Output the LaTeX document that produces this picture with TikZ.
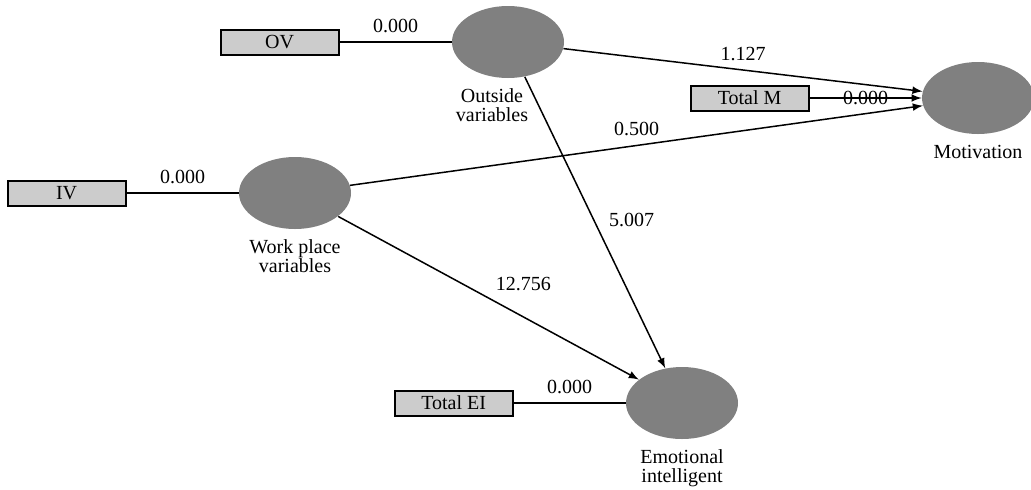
\documentclass[tikz,border=0pt]{standalone}
\usepackage{fontspec}
\setmainfont{Liberation Serif}
\usepackage{tikz}
\usetikzlibrary{arrows,positioning,shapes.geometric}

\begin{document}
\begin{tikzpicture}[x=0.5pt, y=-0.5pt, font=\fontsize{10}{9.3}\selectfont]
    \tikzstyle{latent} = [ellipse, fill=black!50, minimum width=56pt, minimum height=36pt, inner sep=0pt]
    \tikzstyle{indicator} = [rectangle, draw, line width=1pt, fill=black!20, minimum width=59pt, minimum height=12.5pt, inner sep=0pt]
    \tikzstyle{caption} = [align=center, inner sep=0pt]
    \tikzstyle{link} = [line width=0.75pt]
    \tikzstyle{effect} = [link, ->, >=latex]

    \useasboundingbox (0,0) rectangle (1031,489);

    % Latent variables
    \node [latent] (outside) at (508,42) {};
    \node [latent] (motiv) at (978,98) {};
    \node [latent] (work) at (295,193) {};
    \node [latent] (emo) at (682,403) {};

    \node [caption, below=5pt of outside, xshift=-8pt] (outside_lbl) {Outside\\variables};
    \node [caption, below=5pt of motiv] (motiv_lbl) {Motivation};
    \node [caption, below=5pt of work] (work_lbl) {Work place\\variables};
    \node [caption, below=5pt of emo] (emo_lbl) {Emotional\\intelligent};

    % Indicators
    \node [indicator, left=56pt of outside] (ov) {OV};
    \node [indicator, left=56pt of motiv] (totalm) {Total M};
    \node [indicator, left=56pt of work] (iv) {IV};
    \node [indicator, left=56pt of emo] (totalei) {Total EI};

    \draw[link] (ov) -- node[above=1pt] {0.000} (outside);
    \draw[link] (iv) -- node[above=1pt] {0.000} (work);
    \draw[link] (totalei) -- node[above=1pt] {0.000} (emo);
    \draw[effect] (totalm) -- node {0.000} (motiv);

    % Paths
    \draw[effect] (outside) -- node[above=1pt] {1.127} (motiv);
    \draw[effect] (work) -- node[above=1pt] {0.500} (motiv);
    \draw[effect] (outside) -- node[pos=0.49, right=4pt] {5.007} (emo);
    \draw[effect] (work) -- node[above right] {12.756} (emo);

\end{tikzpicture}
\end{document}
